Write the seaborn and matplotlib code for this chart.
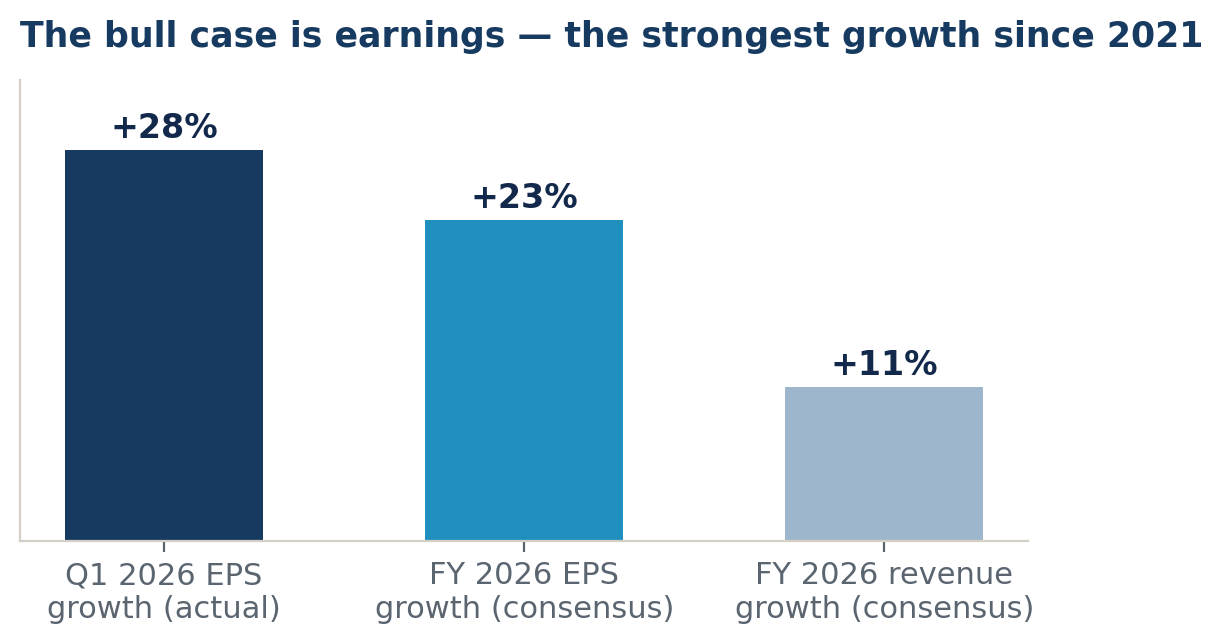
import matplotlib
matplotlib.use("Agg")
import matplotlib.pyplot as plt
import seaborn as sns
import pandas as pd

# data
categories = ["Q1 2026 EPS\ngrowth (actual)", "FY 2026 EPS\ngrowth (consensus)", "FY 2026 revenue\ngrowth (consensus)"]
growth = [28, 23, 11]
bar_labels = ["+28%", "+23%", "+11%"]
colors = ["#173A60", "#208FBE", "#9DB6CB"]

df = pd.DataFrame({"metric": categories, "growth": growth})

sns.set_theme(style="white")
plt.rcParams["font.family"] = ["DejaVu Sans"]

fig = plt.figure(figsize=(6.115, 3.22), dpi=200)
ax = fig.add_axes([0.0164, 0.16, 0.8245, 0.716])

sns.barplot(data=df, x="metric", y="growth", hue="metric", palette=colors,
            width=0.55, legend=False, ax=ax, saturation=1, linewidth=0)

for i, v in enumerate(growth):
    ax.text(i, v + 0.35, bar_labels[i], ha="center", va="bottom",
            fontsize=12, fontweight="bold", color="#13294B")

ax.set_xlim(-0.4, 2.4)
ax.set_ylim(0, 33)
ax.set_yticks([])
ax.set_xlabel("")
ax.set_ylabel("")
ax.tick_params(axis="x", colors="#5A6570", labelsize=11, length=4, width=0.8,
               direction="out", bottom=True, pad=3.3)
for lbl in ax.get_xticklabels():
    lbl.set_color("#5A6570")

sns.despine(ax=ax, top=True, right=True)
for s in ["left", "bottom"]:
    ax.spines[s].set_color("#D5D0C5")
    ax.spines[s].set_linewidth(0.8)

fig.text(0.0164, 0.943, "The bull case is earnings \u2014 the strongest growth since 2021",
         fontsize=12.5, fontweight="bold", color="#173A60", ha="left", va="center")

fig.savefig("out.png", dpi=200)
